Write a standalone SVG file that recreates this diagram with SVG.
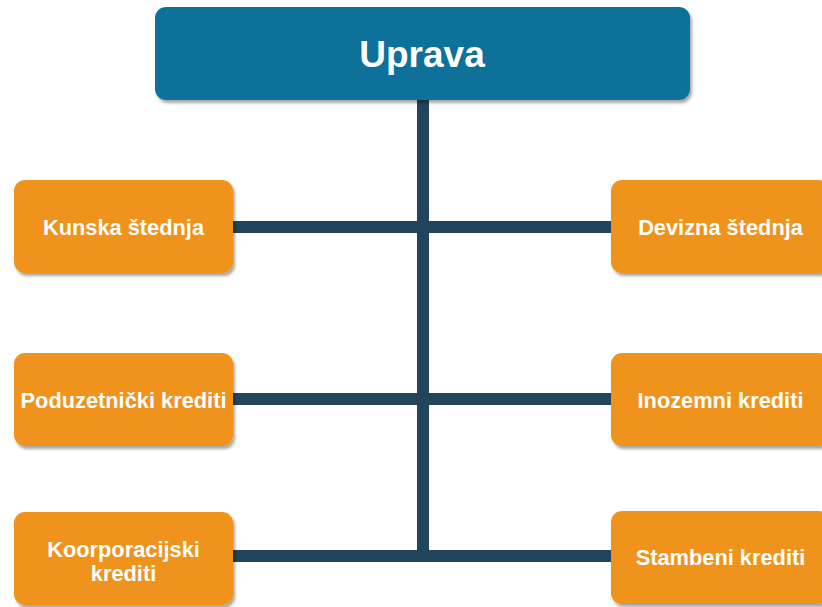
<svg xmlns="http://www.w3.org/2000/svg" width="822" height="607" viewBox="0 0 822 607">
<defs>
<filter id="sh" x="-10%" y="-10%" width="130%" height="140%">
<feDropShadow dx="2" dy="3" stdDeviation="1.5" flood-color="#000" flood-opacity="0.35"/>
</filter>
</defs>
<style>
.top{fill:#11719A;filter:url(#sh)}
.box{fill:#F0931E;filter:url(#sh)}
.t{font-family:"Liberation Sans",Arial,sans-serif;font-weight:bold;fill:#fff;text-anchor:middle;font-size:21.8px}
.big{font-size:37px}
.c{stroke:#23445D;stroke-width:12;fill:none}
</style>
<rect width="822" height="607" fill="#fff"/>
<g id="connectors">
<path class="c" d="M423 100 V562"/>
<path class="c" d="M233 227 H611"/>
<path class="c" d="M233 399 H611"/>
<path class="c" d="M233 556 H611"/>
</g>
<g id="uprava">
<rect class="top" x="155" y="7" width="535" height="93" rx="11"/>
<text class="t big" x="422" y="67">Uprava</text>
</g>
<g id="kunska">
<rect class="box" x="14" y="180" width="219" height="93" rx="11"/>
<text class="t" x="123.5" y="234.5">Kunska štednja</text>
</g>
<g id="devizna">
<rect class="box" x="611" y="180" width="219" height="93" rx="11"/>
<text class="t" x="720.5" y="234.5">Devizna štednja</text>
</g>
<g id="poduzetnicki">
<rect class="box" x="14" y="353" width="219" height="93" rx="11"/>
<text class="t" x="123.5" y="407.5">Poduzetnički krediti</text>
</g>
<g id="inozemni">
<rect class="box" x="611" y="353" width="219" height="93" rx="11"/>
<text class="t" x="720.5" y="407.5">Inozemni krediti</text>
</g>
<g id="koorporacijski">
<rect class="box" x="14" y="512" width="219" height="93" rx="11"/>
<text class="t" x="123.5" y="556.5">Koorporacijski</text>
<text class="t" x="123.5" y="580.5">krediti</text>
</g>
<g id="stambeni">
<rect class="box" x="611" y="511" width="219" height="93" rx="11"/>
<text class="t" x="720.5" y="565">Stambeni krediti</text>
</g>
</svg>
